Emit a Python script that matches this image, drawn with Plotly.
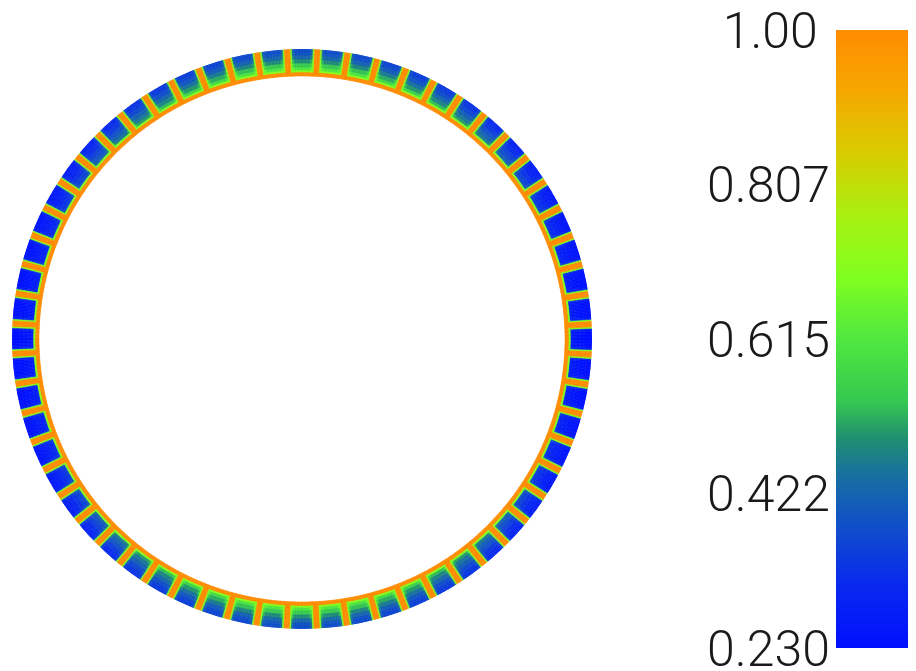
import plotly.graph_objects as go

# ring of 60 cells, cell k centred at 6*k degrees (0 = right, counter-clockwise)
N_CELLS = 60

# value at the outer edge of each cell (deep blue at the sides, more teal top/bottom)
CELL_OUTER = [0.23, 0.23, 0.23, 0.24, 0.25, 0.26, 0.28, 0.29, 0.31, 0.33, 0.34, 0.35, 0.36, 0.37, 0.38, 0.38,
              0.38, 0.37, 0.36, 0.35, 0.34, 0.33, 0.31, 0.29, 0.28, 0.26, 0.25, 0.24, 0.23, 0.23, 0.23,
              0.23, 0.23, 0.24, 0.25, 0.26, 0.28, 0.29, 0.31, 0.33, 0.34, 0.35, 0.36, 0.37, 0.38, 0.38,
              0.38, 0.37, 0.36, 0.35, 0.34, 0.33, 0.31, 0.29, 0.28, 0.26, 0.25, 0.24, 0.23, 0.23]

# value on the inner side of each cell, just before the green rim
CELL_INNER = [0.27, 0.27, 0.28, 0.30, 0.32, 0.35, 0.38, 0.42, 0.46, 0.50, 0.53, 0.56, 0.58, 0.60, 0.61, 0.61,
              0.61, 0.60, 0.58, 0.56, 0.53, 0.50, 0.46, 0.42, 0.38, 0.35, 0.32, 0.30, 0.28, 0.27, 0.27,
              0.27, 0.28, 0.30, 0.32, 0.35, 0.38, 0.42, 0.46, 0.50, 0.53, 0.56, 0.58, 0.60, 0.61, 0.61,
              0.61, 0.60, 0.58, 0.56, 0.53, 0.50, 0.46, 0.42, 0.38, 0.35, 0.32, 0.30, 0.28, 0.27]

# radial layers of the ring (inner -> outer) and what each one holds
RING_EDGES = [263, 267, 269, 272, 276, 280, 284, 287, 290]
ROW_ROLE = ["gap", "rim", 0.0, 0.3, 0.55, 0.8, 0.95, 1.0]   # numbers = mix toward outer value
# angular slices across one 6 degree period
COL_ROLE = ["gap", "gap", "rim", 0.05, 0.02, 0.0, 0.0, 0.0, 0.0, 0.0,
            0.0, 0.0, 0.0, 0.0, 0.0, 0.02, 0.05, "rim", "gap", "gap"]  # numbers = lift near cell sides

GAP_VALUE = 1.0
RIM_VALUE = 0.70

CMIN, CMAX = 0.230, 1.00
TICK_VALS = [0.230, 0.422, 0.615, 0.807, 1.00]
TICK_TEXT = ["0.230", "0.422", "0.615", "0.807", "1.00\u00a0"]

COLORSCALE = [
    [0.00, "#0010ff"], [0.10, "#0828f0"], [0.20, "#1050c8"], [0.28, "#1870a0"],
    [0.34, "#209070"], [0.40, "#35c850"], [0.50, "#50e840"], [0.60, "#80ff20"],
    [0.70, "#a8f010"], [0.80, "#d8cc00"], [0.90, "#f5a800"], [1.00, "#ff8c00"],
]

period = 360 / N_CELLS
slice_w = period / len(COL_ROLE)

thetas, bases, lengths, values = [], [], [], []
for k in range(N_CELLS):
    for i, row in enumerate(ROW_ROLE):
        for j, col in enumerate(COL_ROLE):
            if row == "gap" or col == "gap":
                v = GAP_VALUE
            elif row == "rim" or col == "rim":
                v = RIM_VALUE
            else:
                v = CELL_INNER[k] * (1 - row) + CELL_OUTER[k] * row + col
            thetas.append(k * period - period / 2 + slice_w * (j + 0.5))
            bases.append(RING_EDGES[i])
            lengths.append(RING_EDGES[i + 1] - RING_EDGES[i])
            values.append(v)

# page body has an 8px margin, so the figure itself is 8px smaller each way
PAD = 8
W, H = 916 - PAD, 671 - PAD


def fx(px):
    return (px - PAD) / W


def fy(py):
    return 1 - (py - PAD) / H


fig = go.Figure()

fig.add_trace(go.Barpolar(
    theta=thetas, r=lengths, base=bases, width=slice_w,
    marker=dict(
        color=values, colorscale=COLORSCALE, cmin=CMIN, cmax=CMAX,
        line=dict(color=values, colorscale=COLORSCALE, cmin=CMIN, cmax=CMAX, width=0.6),
        showscale=True,
        colorbar=dict(
            x=fx(836), xanchor="left", xpad=0,
            y=fy(30), yanchor="top", ypad=0,
            len=(648 - 30) / H, lenmode="fraction",
            thickness=80, thicknessmode="pixels",
            outlinewidth=0, ticks="", showticklabels=False,
        ),
    ),
    hoverinfo="skip", showlegend=False,
))

# axis that carries the colour bar labels on its left side
fig.add_trace(go.Scatter(x=[None], y=[None], xaxis="x", yaxis="y",
                         hoverinfo="skip", showlegend=False))

fig.update_layout(
    width=W, height=H,
    margin=dict(l=0, r=0, t=0, b=0, autoexpand=False),
    paper_bgcolor="white",
    plot_bgcolor="rgba(0,0,0,0)",
    polar=dict(
        domain=dict(x=[fx(12), fx(592)], y=[fy(629), fy(49)]),
        bgcolor="white",
        radialaxis=dict(range=[0, 290], visible=False),
        angularaxis=dict(visible=False),
    ),
    xaxis=dict(domain=[fx(836), 1.0], visible=False, range=[0, 1]),
    yaxis=dict(
        domain=[fy(648), fy(30)], range=[CMIN, CMAX],
        side="left", anchor="x",
        tickvals=TICK_VALS, ticktext=TICK_TEXT, ticks="",
        showgrid=False, zeroline=False, showline=False,
        ticklabelstandoff=5, ticklabeloverflow="allow",
        tickfont=dict(family="Roboto, Liberation Sans", size=50, weight=300, color="#1a1a1a"),
    ),
)

fig.write_html("out.html")
